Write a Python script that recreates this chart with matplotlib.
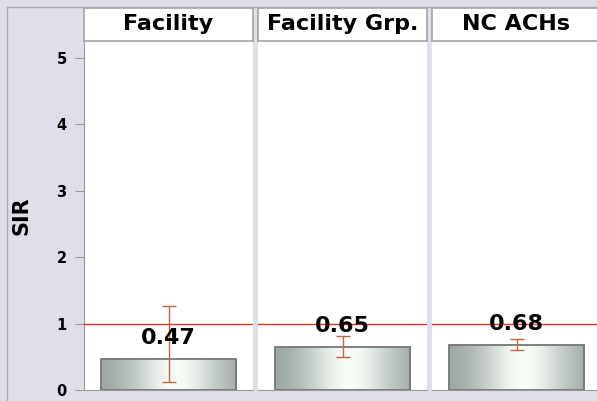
import numpy as np
import matplotlib
matplotlib.use("Agg")
import matplotlib.pyplot as plt

groups = ["Facility", "Facility Grp.", "NC ACHs"]
sir = [0.47, 0.65, 0.68]
ci_low = [0.12, 0.50, 0.60]
ci_high = [1.27, 0.81, 0.77]
y_ticks = [0, 1, 2, 3, 4, 5]

BG = "#dfdfea"
W, H = 597, 401

fig = plt.figure(figsize=(W / 100, H / 100), dpi=100, facecolor=BG)

def box(x, y, w, h):
    # pixel box (top-left origin) -> figure fraction
    return [x / W, 1 - (y + h) / H, w / W, h / H]

# outer frame line
frame = fig.add_axes(box(7, 7, 600, 400))
frame.set_facecolor("none")
frame.set_xticks([])
frame.set_yticks([])
for s in frame.spines.values():
    s.set_color("#a9a9b3")
    s.set_linewidth(1.0)

# gradient for the bars: grey edges, near-white centre
xs = np.linspace(0, 1, 256)
shade = np.exp(-((xs - 0.55) / 0.33) ** 2)
edge_c = np.array([0.60, 0.64, 0.62])
mid_c = np.array([0.97, 0.99, 0.97])
grad = edge_c + (mid_c - edge_c) * shade[:, None]
grad = grad[None, :, :]

ytop = 349 / 66.4
for i, (name, v, lo, hi) in enumerate(zip(groups, sir, ci_low, ci_high)):
    left = 84 + i * 174
    ax = fig.add_axes(box(left, 41, 169, 349))
    ax.set_facecolor("white")

    bar = ax.bar(0, v, width=0.8, color="none", edgecolor="#767676", linewidth=1.3, zorder=3)[0]
    im = ax.imshow(grad, extent=(-0.4, 0.4, 0, v), aspect="auto", zorder=2)
    im.set_clip_path(bar)

    ax.axhline(1, color="#e8302c", lw=1, zorder=4)
    ax.errorbar(0, v, yerr=[[v - lo], [hi - v]], fmt="none", ecolor="#d0603a",
                elinewidth=1, capsize=4.7, capthick=1, zorder=5)
    ax.text(0, v + 0.32, f"{v:.2f}", ha="center", va="center",
            fontsize=16, fontweight="bold", zorder=6)

    ax.set_xlim(-0.5, 0.5)
    ax.set_ylim(0, ytop)
    ax.set_xticks([])
    for s in ["top", "right"]:
        ax.spines[s].set_visible(False)
    ax.spines["bottom"].set_color("#9a9a9a")
    if i == 0:
        ax.spines["left"].set_color("#9a9a9a")
        ax.set_yticks(y_ticks)
        ax.set_yticklabels([str(t) for t in y_ticks], fontsize=10.5, fontweight="bold")
        ax.tick_params(axis="y", length=6.5, color="#9a9a9a", pad=6)
        ax.set_ylabel("SIR", fontsize=15, fontweight="bold", labelpad=18)
    else:
        ax.spines["left"].set_visible(False)
        ax.set_yticks([])

    # header box with the group name
    hd = fig.add_axes(box(left, 7.5, 169, 33.5))
    hd.set_facecolor("white")
    hd.set_xticks([])
    hd.set_yticks([])
    for s in hd.spines.values():
        s.set_color("#a4a4a4")
        s.set_linewidth(1.2)
    hd.text(0.5, 0.5, name, ha="center", va="center", fontsize=16,
            fontweight="bold", transform=hd.transAxes)

fig.savefig("out.png", dpi=100, facecolor=BG)
